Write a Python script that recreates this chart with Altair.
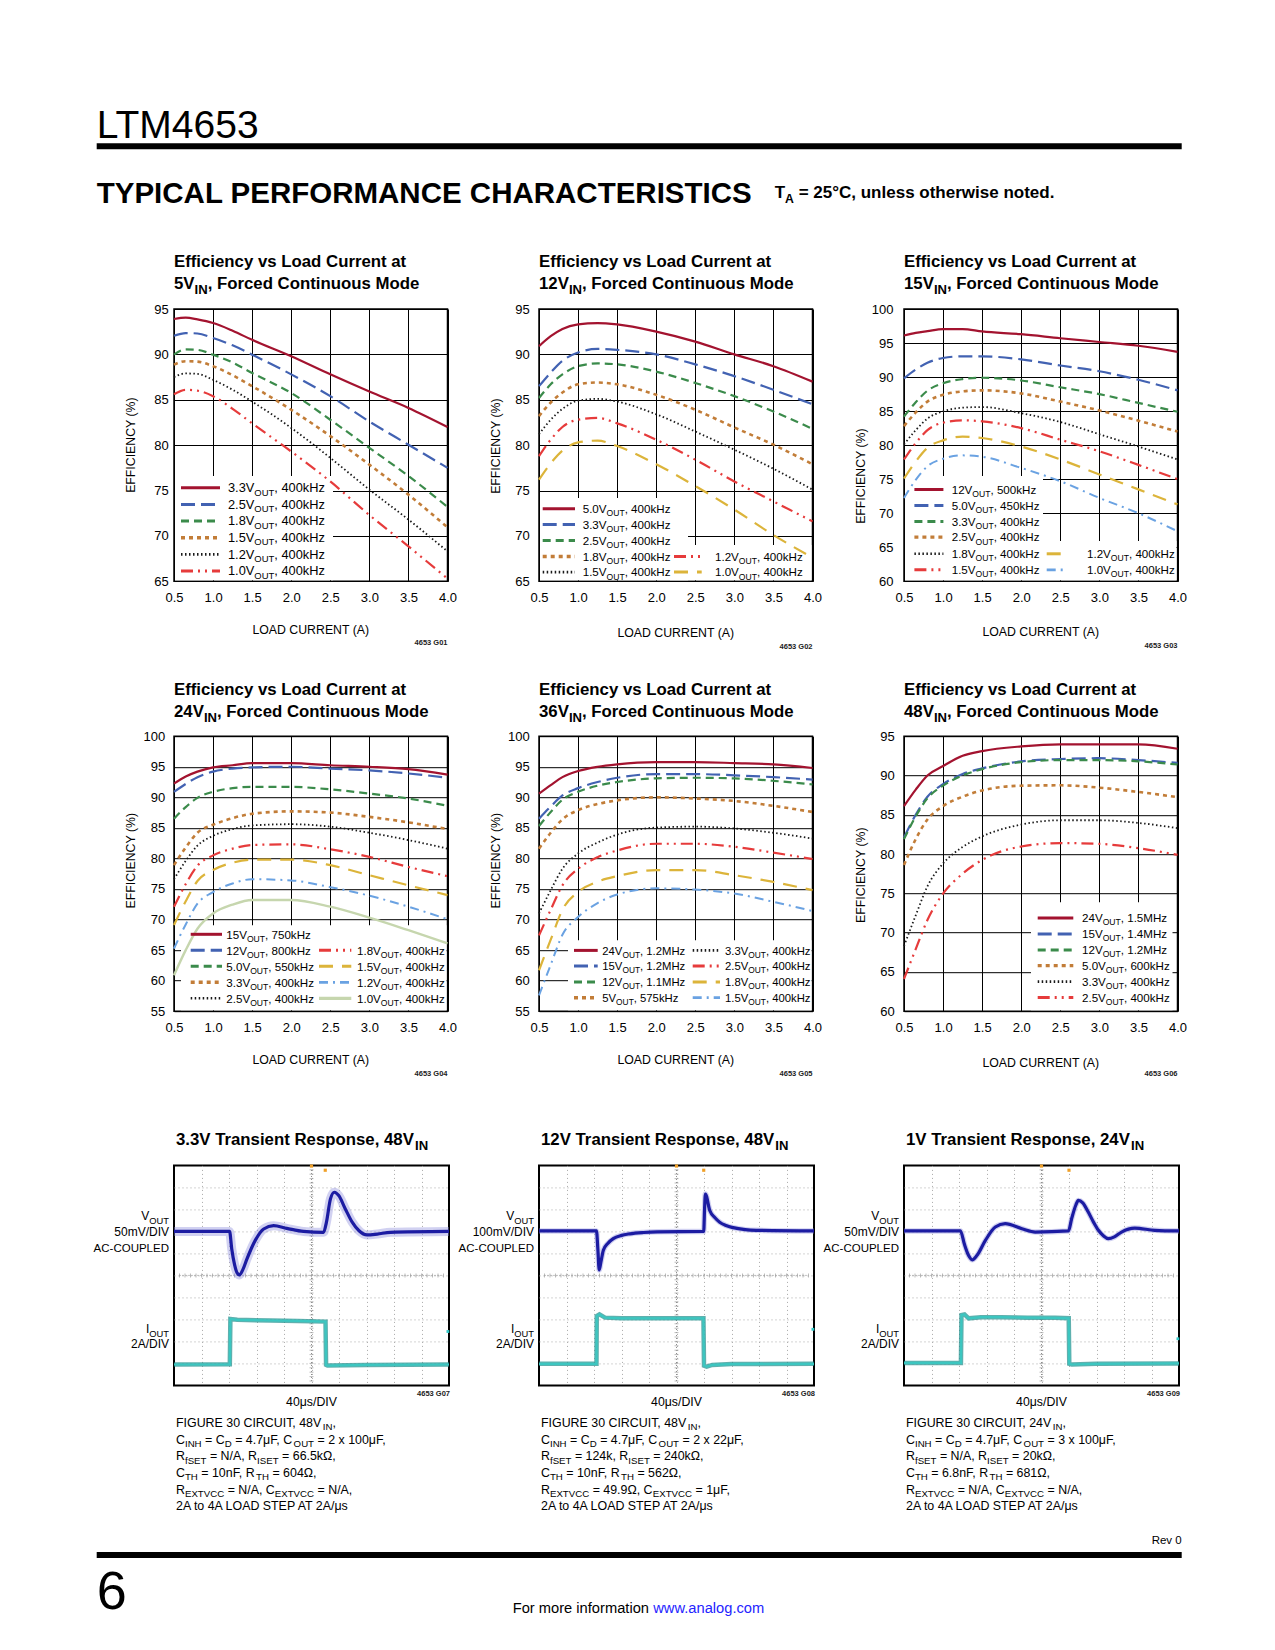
import re
import altair as alt
import pandas as pd

# ====================== DATA ======================
LOAD_A = [0.5, 0.65, 0.8, 1.0, 1.25, 1.5, 2.0, 2.5, 3.0, 3.5, 4.0]
X_TICKS = [0.5, 1.0, 1.5, 2.0, 2.5, 3.0, 3.5, 4.0]

EFF_5VIN = {
    "3.3V": [93.9, 94.05, 93.85, 93.45, 92.6, 91.6, 89.8, 87.8, 85.9, 84.1, 82.0],
    "2.5V": [92.05, 92.35, 92.3, 91.8, 91.0, 89.97, 87.8, 85.4, 82.6, 80.05, 77.5],
    "1.8V": [89.97, 90.55, 90.5, 89.97, 89.1, 87.95, 85.75, 82.8, 79.7, 76.6, 73.2],
    "1.5V": [88.87, 89.25, 89.2, 88.7, 87.7, 86.5, 83.9, 81.0, 77.85, 74.55, 70.95],
    "1.2V": [87.5, 87.9, 87.85, 87.2, 86.1, 84.8, 81.9, 78.6, 75.1, 71.8, 68.3],
    "1.0V": [85.6, 86.1, 86.0, 85.4, 84.0, 82.4, 79.3, 76.0, 72.3, 68.85, 65.3],
}
EFF_12VIN = {
    "5.0V": [90.9, 92.0, 92.8, 93.3, 93.45, 93.3, 92.5, 91.4, 90.0, 88.7, 87.0],
    "3.3V": [86.5, 88.0, 89.3, 90.2, 90.6, 90.5, 90.0, 88.9, 87.6, 86.1, 84.5],
    "2.5V": [85.2, 86.7, 87.8, 88.7, 89.0, 88.9, 88.1, 86.85, 85.4, 83.7, 81.8],
    "1.8V": [83.2, 84.7, 85.8, 86.7, 86.9, 86.7, 85.55, 83.9, 81.95, 80.05, 77.9],
    "1.5V": [81.2, 82.8, 84.0, 84.9, 85.1, 84.8, 83.4, 81.5, 79.5, 77.4, 75.1],
    "1.2V": [78.8, 80.6, 82.0, 82.8, 83.0, 82.4, 80.6, 78.4, 76.0, 73.8, 71.6],
    "1.0V": [76.2, 78.0, 79.4, 80.3, 80.5, 79.9, 77.9, 75.5, 72.9, 70.1, 67.6],
}
EFF_15VIN = {
    "12V": [96.1, 96.5, 96.75, 97.05, 97.05, 96.7, 96.3, 95.7, 95.15, 94.6, 93.7],
    "5.0V": [89.8, 91.1, 92.1, 92.8, 93.05, 93.05, 92.6, 91.7, 90.85, 89.6, 88.05],
    "3.3V": [84.2, 86.3, 88.0, 89.1, 89.7, 89.9, 89.5, 88.5, 87.5, 86.2, 84.9],
    "2.5V": [82.8, 84.8, 86.4, 87.4, 87.9, 88.05, 87.6, 86.4, 85.1, 83.6, 82.0],
    "1.8V": [80.1, 82.2, 83.9, 84.97, 85.5, 85.6, 84.7, 83.4, 81.6, 79.8, 77.9],
    "1.5V": [77.9, 80.3, 82.2, 83.3, 83.65, 83.5, 82.5, 80.8, 79.1, 77.1, 75.0],
    "1.2V": [75.1, 77.6, 79.6, 80.7, 81.25, 81.05, 79.8, 77.9, 75.7, 73.5, 71.3],
    "1.0V": [72.25, 74.9, 76.9, 78.0, 78.5, 78.3, 76.65, 74.7, 72.25, 70.0, 67.35],
}
EFF_24VIN = {
    "15V": [92.25, 93.4, 94.2, 94.9, 95.25, 95.6, 95.6, 95.25, 95.0, 94.6, 93.7],
    "12V": [90.9, 92.2, 93.3, 94.2, 94.7, 94.9, 95.0, 94.7, 94.4, 93.9, 93.2],
    "5.0V": [86.5, 88.4, 89.9, 90.9, 91.5, 91.7, 91.7, 91.3, 90.6, 89.8, 88.6],
    "3.3V": [78.9, 81.8, 84.2, 85.5, 86.6, 87.3, 87.7, 87.5, 86.8, 85.9, 84.8],
    "2.5V": [76.6, 79.6, 82.1, 83.7, 84.8, 85.4, 85.6, 85.2, 84.2, 83.0, 81.6],
    "1.8V": [72.1, 75.8, 78.8, 80.5, 81.6, 82.2, 82.3, 81.5, 80.25, 78.6, 77.1],
    "1.5V": [69.1, 73.0, 76.3, 78.1, 79.3, 79.8, 79.8, 78.9, 77.25, 75.6, 74.0],
    "1.2V": [65.25, 69.2, 72.6, 74.5, 75.9, 76.6, 76.4, 75.3, 73.9, 72.1, 70.05],
    "1.0V": [60.9, 65.0, 68.5, 71.0, 72.45, 73.2, 73.2, 72.1, 70.3, 68.25, 66.1],
}
EFF_36VIN = {
    "24V": [90.6, 92.0, 93.3, 94.3, 95.0, 95.4, 95.75, 95.75, 95.6, 95.4, 94.8],
    "15V": [86.5, 88.5, 90.3, 91.5, 92.5, 93.2, 93.8, 93.8, 93.6, 93.3, 92.9],
    "12V": [85.3, 87.6, 89.6, 90.9, 91.9, 92.5, 93.1, 93.2, 93.1, 92.7, 92.1],
    "5V": [81.6, 84.2, 86.4, 87.9, 88.9, 89.5, 90.0, 89.8, 89.4, 88.6, 87.6],
    "3.3V": [71.0, 74.8, 78.3, 80.8, 82.6, 83.9, 85.05, 85.2, 84.9, 84.2, 83.25],
    "2.5V": [67.4, 71.6, 75.6, 78.3, 80.2, 81.3, 82.4, 82.4, 81.9, 80.95, 79.9],
    "1.8V": [61.7, 66.7, 71.6, 74.5, 76.2, 77.1, 78.1, 78.1, 77.25, 76.15, 74.8],
    "1.5V": [57.6, 62.6, 67.5, 70.4, 72.7, 74.1, 75.1, 74.9, 74.25, 72.9, 71.4],
}
EFF_48VIN = {
    "24V": [86.1, 88.2, 90.0, 91.2, 92.5, 93.1, 93.7, 93.97, 93.97, 93.97, 93.4],
    "15V": [82.1, 85.0, 87.3, 88.9, 90.2, 90.9, 91.8, 92.1, 92.2, 91.96, 91.6],
    "12V": [81.9, 84.8, 87.1, 88.7, 90.0, 90.8, 91.7, 91.96, 91.96, 91.8, 91.4],
    "5.0V": [78.6, 81.9, 84.4, 86.1, 87.3, 88.1, 88.7, 88.75, 88.45, 87.9, 87.25],
    "3.3V": [68.3, 72.2, 75.9, 78.8, 80.9, 82.25, 83.75, 84.3, 84.3, 83.96, 83.3],
    "2.5V": [64.1, 67.9, 71.6, 74.97, 77.5, 79.25, 80.96, 81.4, 81.3, 80.75, 79.9],
}

LEG_5VIN = ["3.3V_{OUT}, 400kHz", "2.5V_{OUT}, 400kHz", "1.8V_{OUT}, 400kHz",
            "1.5V_{OUT}, 400kHz", "1.2V_{OUT}, 400kHz", "1.0V_{OUT}, 400kHz"]
LEG_12VIN = ["5.0V_{OUT}, 400kHz", "3.3V_{OUT}, 400kHz", "2.5V_{OUT}, 400kHz", "1.8V_{OUT}, 400kHz",
             "1.5V_{OUT}, 400kHz", "1.2V_{OUT}, 400kHz", "1.0V_{OUT}, 400kHz"]
LEG_15VIN = ["12V_{OUT}, 500kHz", "5.0V_{OUT}, 450kHz", "3.3V_{OUT}, 400kHz", "2.5V_{OUT}, 400kHz",
             "1.8V_{OUT}, 400kHz", "1.5V_{OUT}, 400kHz", "1.2V_{OUT}, 400kHz", "1.0V_{OUT}, 400kHz"]
LEG_24VIN = ["15V_{OUT}, 750kHz", "12V_{OUT}, 800kHz", "5.0V_{OUT}, 550kHz", "3.3V_{OUT}, 400kHz",
             "2.5V_{OUT}, 400kHz", "1.8V_{OUT}, 400kHz", "1.5V_{OUT}, 400kHz", "1.2V_{OUT}, 400kHz",
             "1.0V_{OUT}, 400kHz"]
LEG_36VIN = ["24V_{OUT}, 1.2MHz", "15V_{OUT}, 1.2MHz", "12V_{OUT}, 1.1MHz", "5V_{OUT}, 575kHz",
             "3.3V_{OUT}, 400kHz", "2.5V_{OUT}, 400kHz", "1.8V_{OUT}, 400kHz", "1.5V_{OUT}, 400kHz"]
LEG_48VIN = ["24V_{OUT}, 1.5MHz", "15V_{OUT}, 1.4MHz", "12V_{OUT}, 1.2MHz", "5.0V_{OUT}, 600kHz",
             "3.3V_{OUT}, 400kHz", "2.5V_{OUT}, 400kHz"]

# Scope traces, in screen divisions (10 x 10 graticule)
S1_VOUT_X = [0, 2.02, 2.1, 2.2, 2.3, 2.38, 2.5, 2.65, 2.95, 3.26, 3.62, 4.1, 4.71, 5.44, 5.54, 5.69,
             5.83, 5.99, 6.23, 6.48, 6.72, 7.02, 7.39, 7.87, 10]
S1_VOUT_Y = [7.0, 7.0, 6.2, 5.5, 5.1, 5.02, 5.25, 5.74, 6.58, 7.11, 7.26, 7.14, 7.0, 6.96, 7.4, 8.48,
             8.78, 8.63, 8.02, 7.42, 7.04, 6.84, 6.88, 6.96, 7.0]
S1_IOUT_X = [0, 2.03, 2.05, 2.3, 3.5, 4.5, 5.51, 5.53, 5.58, 7.0, 10]
S1_IOUT_Y = [0.95, 0.96, 3.02, 2.98, 2.95, 2.93, 2.9, 0.93, 0.9, 0.93, 0.95]

S2_VOUT_X = [0, 2.09, 2.14, 2.19, 2.25, 2.34, 2.5, 2.7, 3.0, 3.3, 3.8, 4.3, 5.99, 6.02, 6.05, 6.21,
             6.4, 6.57, 6.8, 7.06, 7.5, 7.9, 10]
S2_VOUT_Y = [7.02, 7.02, 6.2, 5.25, 5.6, 6.14, 6.45, 6.67, 6.82, 6.89, 6.95, 6.98, 7.0, 8.0, 8.7, 7.95,
             7.62, 7.42, 7.27, 7.17, 7.08, 7.05, 7.02]
S2_IOUT_X = [0, 2.09, 2.1, 2.2, 2.4, 3.0, 4.0, 5.0, 5.98, 6.0, 6.1, 6.3, 7.0, 10]
S2_IOUT_Y = [0.98, 0.98, 3.15, 3.23, 3.08, 3.05, 3.05, 3.05, 3.05, 0.9, 0.85, 0.93, 0.97, 0.98]

S3_VOUT_X = [0, 2.05, 2.2, 2.35, 2.48, 2.65, 2.96, 3.32, 3.68, 4.29, 4.77, 5.98, 6.1, 6.25, 6.34,
             6.5, 6.7, 6.9, 7.07, 7.25, 7.43, 7.65, 7.91, 8.39, 9.12, 10]
S3_VOUT_Y = [7.02, 7.02, 6.4, 5.9, 5.71, 5.9, 6.59, 7.2, 7.35, 7.12, 6.97, 7.02, 7.6, 8.2, 8.41,
             8.3, 7.88, 7.4, 7.05, 6.8, 6.67, 6.75, 6.97, 7.15, 7.05, 7.02]
S3_IOUT_X = [0, 2.07, 2.09, 2.2, 2.35, 2.8, 3.5, 4.5, 5.5, 5.99, 6.01, 6.1, 7.0, 10]
S3_IOUT_Y = [1.02, 1.02, 3.2, 3.23, 3.05, 3.1, 3.1, 3.08, 3.07, 3.05, 0.98, 0.95, 0.98, 1.0]

S_TRIGGER_X = [5.5, 5.99, 6.0]          # orange trigger marker position per scope
S_CH2_Y = [2.45, 2.55, 2.12]            # cyan channel marker at right edge
S_VSCALE = ["50mV/DIV", "100mV/DIV", "50mV/DIV"]
GRATICULE = [1, 2, 3, 4, 5, 6, 7, 8, 9]
SUBDIV = [k / 5 for k in range(1, 50)]

CAP_1 = ["FIGURE 30 CIRCUIT, 48V_{IN},", "C_{INH} = C_{D} = 4.7μF, C_{OUT} = 2 x 100μF,",
         "R_{fSET} = N/A, R_{ISET} = 66.5kΩ,", "C_{TH} = 10nF, R_{TH} = 604Ω,",
         "R_{EXTVCC} = N/A, C_{EXTVCC} = N/A,", "2A to 4A LOAD STEP AT 2A/μs"]
CAP_2 = ["FIGURE 30 CIRCUIT, 48V_{IN},", "C_{INH} = C_{D} = 4.7μF, C_{OUT} = 2 x 22μF,",
         "R_{fSET} = 124k, R_{ISET} = 240kΩ,", "C_{TH} = 10nF, R_{TH} = 562Ω,",
         "R_{EXTVCC} = 49.9Ω, C_{EXTVCC} = 1μF,", "2A to 4A LOAD STEP AT 2A/μs"]
CAP_3 = ["FIGURE 30 CIRCUIT, 24V_{IN},", "C_{INH} = C_{D} = 4.7μF, C_{OUT} = 3 x 100μF,",
         "R_{fSET} = N/A, R_{ISET} = 20kΩ,", "C_{TH} = 6.8nF, R_{TH} = 681Ω,",
         "R_{EXTVCC} = N/A, C_{EXTVCC} = N/A,", "2A to 4A LOAD STEP AT 2A/μs"]

# ====================== STYLE / TEXT HELPERS ======================
FONT = "Liberation Sans, Arial, Helvetica, sans-serif"
REG = {' ': 278, '!': 278, '%': 889, '(': 333, ')': 333, ',': 278, '-': 333, '.': 278, '/': 278,
       ':': 278, '=': 584, '°': 400, 'μ': 576, 'Ω': 768,
       'A': 667, 'B': 667, 'C': 722, 'D': 722, 'E': 667, 'F': 611, 'G': 778, 'H': 722, 'I': 278,
       'J': 500, 'K': 667, 'L': 556, 'M': 833, 'N': 722, 'O': 778, 'P': 667, 'Q': 778, 'R': 722,
       'S': 667, 'T': 611, 'U': 722, 'V': 667, 'W': 944, 'X': 667, 'Y': 667, 'Z': 611,
       'a': 556, 'b': 556, 'c': 500, 'd': 556, 'e': 556, 'f': 278, 'g': 556, 'h': 556, 'i': 222,
       'j': 222, 'k': 500, 'l': 222, 'm': 833, 'n': 556, 'o': 556, 'p': 556, 'q': 556, 'r': 333,
       's': 500, 't': 278, 'u': 556, 'v': 500, 'w': 722, 'x': 500, 'y': 500, 'z': 500}
BOLD = dict(REG)
BOLD.update({'A': 722, 'B': 722, 'L': 611, 'a': 556, 'c': 556, 'd': 611, 'f': 333, 'g': 611,
             'h': 611, 'i': 278, 'j': 278, 'k': 556, 'l': 278, 'm': 889, 'n': 611, 'o': 611,
             'p': 611, 'q': 611, 'r': 389, 's': 556, 't': 333, 'u': 611, 'v': 556, 'w': 778,
             'x': 556, 'y': 556, 'z': 500})

ONE = alt.Data(values=[{"k": 0}])


def tw(s, size, bold):
    tab = BOLD if bold else REG
    return sum(tab.get(ch, 556) for ch in s) / 1000.0 * size


def parse(markup):
    parts, pos = [], 0
    for m in re.finditer(r"_\{([^}]*)\}", markup):
        if m.start() > pos:
            parts.append((markup[pos:m.start()], False))
        parts.append((m.group(1), True))
        pos = m.end()
    if pos < len(markup):
        parts.append((markup[pos:], False))
    return parts


def txt(t, x, y, size, bold=False, align="left", color="black", angle=None, baseline="alphabetic"):
    kw = dict(text=t, align=align, baseline=baseline, font=FONT, fontSize=size,
              fontWeight="bold" if bold else "normal", color=color)
    if angle is not None:
        kw["angle"] = angle
    return alt.Chart(ONE).mark_text(**kw).encode(x=alt.value(x), y=alt.value(y))


def rich(markup, x, y, size, bold=False, align="left", color="black", sub=0.74):
    parts = parse(markup)
    if len(parts) == 1 and not parts[0][1]:
        return [txt(parts[0][0], x, y, size, bold, align, color)]
    widths = [tw(t, size * (sub if s else 1), bold) for t, s in parts]
    total = sum(widths)
    cx = x - total if align == "right" else (x - total / 2 if align == "center" else x)
    out = []
    for (t, s), w in zip(parts, widths):
        fs = size * sub if s else size
        lead = len(t) - len(t.lstrip(" "))
        tt = t.strip(" ")
        if tt:
            out.append(txt(tt, cx + lead * tw(" ", fs, bold), y + (0.28 * size if s else 0),
                           fs, bold, "left", color))
        cx += w
    return out


def hrule(x1, x2, y, color="black", width=1.0, dash=None):
    kw = dict(color=color, strokeWidth=width)
    if dash:
        kw["strokeDash"] = dash
    return alt.Chart(ONE).mark_rule(**kw).encode(x=alt.value(x1), x2=alt.value(x2), y=alt.value(y))


def box(x1, y1, x2, y2, color="white"):
    return alt.Chart(ONE).mark_rect(color=color).encode(
        x=alt.value(x1), x2=alt.value(x2), y=alt.value(y1), y2=alt.value(y2))


STY = {
    "red": dict(color="#a3132f", strokeWidth=2.2),
    "blue": dict(color="#4262b2", strokeWidth=2.2, strokeDash=[14, 6]),
    "green": dict(color="#3b8b4b", strokeWidth=2.2, strokeDash=[8, 5]),
    "orange": dict(color="#c27d38", strokeWidth=2.6, strokeDash=[4, 4]),
    "black": dict(color="#1a1a1a", strokeWidth=1.8, strokeDash=[1.5, 2.5]),
    "redd": dict(color="#e63b3b", strokeWidth=2.2, strokeDash=[12, 5, 2, 5, 2, 5]),
    "yellow": dict(color="#dcb43a", strokeWidth=2.2, strokeDash=[14, 9]),
    "lblue": dict(color="#6aa2e2", strokeWidth=2.0, strokeDash=[9, 5, 2, 5]),
    "pale": dict(color="#c6d6ae", strokeWidth=2.4),
}

W_EFF = 273.5
W_SCOPE = 275
H_ROW = [272.3, 275, 220]
FS_TICK = 13
FS_AX = 12.3
FS_TITLE = 16.8


# ====================== PANELS ======================
def eff_panel(cfg, extra=None):
    W, H = W_EFF, cfg["H"]
    lo, hi = cfg["ydom"]
    xs = alt.Scale(domain=[0.5, 4.0], nice=False, zero=False)
    ys = alt.Scale(domain=[lo, hi], nice=False, zero=False)
    xaxis = alt.Axis(values=X_TICKS, format=".1f", grid=True, gridColor="black", gridWidth=1,
                     gridOpacity=1, domain=False, ticks=False, tickSize=0, labelFont=FONT,
                     labelFontSize=FS_TICK, labelColor="black", labelPadding=10, title=None,
                     labelFlush=False, labelOverlap=False)
    yaxis = alt.Axis(values=list(range(lo, hi + 1, 5)), format="d", grid=True, gridColor="black",
                     gridWidth=1, gridOpacity=1, domain=False, ticks=False, tickSize=0,
                     labelFont=FONT, labelFontSize=FS_TICK, labelColor="black",
                     labelPadding=cfg["ylp"], title=None, labelFlush=False, labelOverlap=False)
    layers = list(extra or [])
    for r in cfg["rects"]:
        layers.append(box(*r))
    names = list(cfg["data"].keys())
    for i, name in enumerate(names):
        df = pd.DataFrame({"load": LOAD_A, "eff": cfg["data"][name]})
        layers.append(alt.Chart(df).mark_line(interpolate="monotone", **STY[cfg["styles"][i]]).encode(
            x=alt.X("load:Q", scale=xs, axis=xaxis),
            y=alt.Y("eff:Q", scale=ys, axis=yaxis)))
    # legend
    for col in cfg["cols"]:
        for k, yb in zip(col["idx"], col["ys"]):
            st = STY[cfg["styles"][k]]
            layers.append(hrule(col["x1"], col["x2"], yb - 4.2, st["color"], st["strokeWidth"] + 0.8,
                                st.get("strokeDash")))
            layers += rich(cfg["labels"][k], col["tx"], yb, cfg["lfs"])
    # titles
    layers.append(txt("Efficiency vs Load Current at", 0, cfg["t1"], FS_TITLE, bold=True))
    layers += rich(cfg["title2"], 0, cfg["t1"] + 22.5, FS_TITLE, bold=True, sub=0.78)
    layers.append(txt("EFFICIENCY (%)", -43, H / 2 + cfg["ytoff"], FS_AX, angle=270,
                      align="center", baseline="middle"))
    layers.append(txt("LOAD CURRENT (A)", W / 2, H + cfg["xtb"], FS_AX, align="center"))
    layers.append(txt(cfg["code"], W, H + cfg["codeb"], 7.5, bold=True, align="right", color="#222"))
    return alt.layer(*layers).properties(
        width=W, height=H, view=alt.ViewBackground(stroke="black", strokeWidth=1.5))


def scope_panel(i, vx, vy, ix, iy, title, caps, code, band, extra=None):
    W, H = W_SCOPE, H_ROW[2]
    xs = alt.Scale(domain=[0, 10], nice=False, zero=False)
    ys = alt.Scale(domain=[0, 10], nice=False, zero=False)
    ax = alt.Axis(values=GRATICULE, grid=True, gridColor="#a8a8a8", gridDash=[1, 3],
                  gridWidth=1, domain=False, ticks=False, labels=False, title=None)

    def enc(ch, xf="t:Q", yf="v:Q"):
        return ch.encode(x=alt.X(xf, scale=xs, axis=ax), y=alt.Y(yf, scale=ys, axis=ax))

    layers = list(extra or [])
    vdf = pd.DataFrame({"t": vx, "v": vy})
    idf = pd.DataFrame({"t": ix, "v": iy})
    hc = pd.DataFrame({"p": SUBDIV, "c": [5] * len(SUBDIV)})
    layers.append(enc(alt.Chart(hc).mark_line(color="#8c8c8c", strokeDash=[1, 2], strokeWidth=1),
                      "p:Q", "c:Q"))
    layers.append(enc(alt.Chart(hc).mark_line(color="#8c8c8c", strokeDash=[1, 2], strokeWidth=1),
                      "c:Q", "p:Q"))
    layers.append(enc(alt.Chart(hc).mark_tick(orient="vertical", size=4, thickness=1, color="#a0a0a0"),
                      "p:Q", "c:Q"))
    layers.append(enc(alt.Chart(hc).mark_tick(orient="horizontal", size=4, thickness=1, color="#a0a0a0"),
                      "c:Q", "p:Q"))
    layers.append(enc(alt.Chart(vdf).mark_line(color="#8c8cdc", strokeWidth=band, opacity=0.4,
                                               interpolate="monotone")))
    layers.append(enc(alt.Chart(idf).mark_line(color="#1b8f8b", strokeWidth=4.5, opacity=0.7)))
    layers.append(enc(alt.Chart(idf).mark_line(color="#3cc6c0", strokeWidth=2.2)))
    layers.append(enc(alt.Chart(vdf).mark_line(color="#1c1ca2", strokeWidth=3.2, interpolate="monotone")))
    mk = pd.DataFrame({"t": [S_TRIGGER_X[i], 5.0], "v": [9.78, 9.97]})
    layers.append(enc(alt.Chart(mk).mark_square(color="#f0a028", size=10, opacity=1)))
    ck = pd.DataFrame({"t": [9.96], "v": [S_CH2_Y[i]]})
    layers.append(enc(alt.Chart(ck).mark_square(color="#30c8c8", size=8, opacity=1)))
    # text
    layers += rich(title, 2, -20.5, FS_TITLE, bold=True, sub=0.78)
    layers += rich("V_{OUT}", -5, 55, 12, align="right", sub=0.78)
    layers.append(txt(S_VSCALE[i], -5, 70.5, 12, align="right"))
    layers.append(txt("AC-COUPLED", -5, 86.5, 11.5, align="right"))
    layers += rich("I_{OUT}", -5, 168, 12, align="right", sub=0.78)
    layers.append(txt("2A/DIV", -5, 182.5, 12, align="right"))
    layers.append(txt("40μs/DIV", W / 2, 240.7, 12.3, align="center"))
    layers.append(txt(code, W + 1, 231, 7.5, bold=True, align="right", color="#222"))
    for k, line in enumerate(caps):
        layers += rich(line, 2, 261.5 + k * 16.7, 12.4, sub=0.78)
    return alt.layer(*layers).properties(
        width=W, height=H, view=alt.ViewBackground(stroke="black", strokeWidth=2))


# Page decorations (positions relative to panel 1 / panel 7 plot origins)
P1X, P1Y = 172.3, 307.7
P7X, P7Y = 172.3, 1163.3
header = [
    box(8 - P1X, 8 - P1Y, 9 - P1X, 9 - P1Y, "white"),          # page origin anchor
    txt("LTM4653", 95 - P1X, 137 - P1Y, 39),
    box(95 - P1X, 142 - P1Y, 1180 - P1X, 148 - P1Y, "black"),
    txt("TYPICAL PERFORMANCE CHARACTERISTICS", 95 - P1X, 202 - P1Y, 29.5, bold=True),
] + rich("T_{A} = 25°C, unless otherwise noted.", 773 - P1X, 196.7 - P1Y, 17, bold=True, sub=0.72)

footer = [
    box(95 - P7X, 1550 - P7Y, 1180 - P7X, 1556 - P7Y, "black"),
    txt("Rev 0", 1180 - P7X, 1542 - P7Y, 11.5, align="right"),
    txt("6", 95 - P7X, 1607 - P7Y, 54),
    txt("For more information", 511 - P7X, 1611 - P7Y, 14.7),
    txt("www.analog.com", 511 - P7X + tw("For more information ", 14.7, False), 1611 - P7Y, 14.7,
        color="#2424ff"),
]

C1 = dict(H=H_ROW[0], ydom=(65, 95), data=EFF_5VIN, labels=LEG_5VIN,
          styles=["red", "blue", "green", "orange", "black", "redd"],
          cols=[dict(x1=7, x2=46, tx=54, ys=[183, 199.6, 216.3, 232.9, 249.6, 266.2], idx=[0, 1, 2, 3, 4, 5])],
          rects=[(1, 167, 159, 271.3)], ylp=5.7, ytoff=0, xtb=53, codeb=64, code="4653 G01", lfs=12.8,
          t1=-42.5, title2="5V_{IN}, Forced Continuous Mode")
C2 = dict(H=H_ROW[0], ydom=(65, 95), data=EFF_12VIN, labels=LEG_12VIN,
          styles=["red", "blue", "green", "orange", "black", "redd", "yellow"],
          cols=[dict(x1=3.7, x2=36, tx=43.7, ys=[204, 219.7, 235.7, 251.7, 267.3], idx=[0, 1, 2, 3, 4]),
                dict(x1=135, x2=162.7, tx=176, ys=[251.7, 267.3], idx=[5, 6])],
          rects=[(1, 189, 149, 271.3), (131, 236, 272.5, 271.3)], ylp=9.7, ytoff=1, xtb=55.7, codeb=68,
          code="4653 G02", lfs=11.6, t1=-42.5, title2="12V_{IN}, Forced Continuous Mode")
C3 = dict(H=H_ROW[0], ydom=(60, 100), data=EFF_15VIN, labels=LEG_15VIN,
          styles=["red", "blue", "green", "orange", "black", "redd", "yellow", "lblue"],
          cols=[dict(x1=10.4, x2=39.4, tx=47.7, ys=[184.7, 200.7, 216.6, 232.3, 249, 265], idx=[0, 1, 2, 3, 4, 5]),
                dict(x1=142.7, x2=158.7, tx=183, ys=[249, 265], idx=[6, 7])],
          rects=[(1, 167, 139, 271.3), (139, 232, 272.5, 271.3)], ylp=11, ytoff=31, xtb=55, codeb=66.7,
          code="4653 G03", lfs=11.6, t1=-42.5, title2="15V_{IN}, Forced Continuous Mode")
C4 = dict(H=H_ROW[1], ydom=(55, 100), data=EFF_24VIN, labels=LEG_24VIN,
          styles=["red", "blue", "green", "orange", "black", "redd", "yellow", "lblue", "pale"],
          cols=[dict(x1=16.7, x2=48, tx=52.3, ys=[202.3, 218.3, 234.3, 250.3, 266.3], idx=[0, 1, 2, 3, 4]),
                dict(x1=145, x2=177.3, tx=183, ys=[218.3, 234.3, 250.3, 266.3], idx=[5, 6, 7, 8])],
          rects=[(7, 189, 272.5, 274)], ylp=9.3, ytoff=-13, xtb=53, codeb=65, code="4653 G04", lfs=11.6,
          t1=-41.5, title2="24V_{IN}, Forced Continuous Mode")
C5 = dict(H=H_ROW[1], ydom=(55, 100), data=EFF_36VIN, labels=LEG_36VIN,
          styles=["red", "blue", "green", "orange", "black", "redd", "yellow", "lblue"],
          cols=[dict(x1=35, x2=58.7, tx=63.3, ys=[218.4, 234, 250, 265.7], idx=[0, 1, 2, 3]),
                dict(x1=153.7, x2=181, tx=186, ys=[218.4, 234, 250, 265.7], idx=[4, 5, 6, 7])],
          rects=[(29, 204, 272.5, 274)], ylp=9.7, ytoff=-13, xtb=53, codeb=65, code="4653 G05", lfs=11.3,
          t1=-41.5, title2="36V_{IN}, Forced Continuous Mode")
C6 = dict(H=H_ROW[1], ydom=(60, 95), data=EFF_48VIN, labels=LEG_48VIN,
          styles=["red", "blue", "green", "orange", "black", "redd"],
          cols=[dict(x1=133.7, x2=169.3, tx=178, ys=[186, 202, 218, 233.6, 249.6, 265.6], idx=[0, 1, 2, 3, 4, 5])],
          rects=[(127, 166, 268.5, 274)], ylp=9.7, ytoff=1.5, xtb=56, codeb=64.7, code="4653 G06", lfs=11.6,
          t1=-41.5, title2="48V_{IN}, Forced Continuous Mode")

panels = [
    eff_panel(C1, header), eff_panel(C2), eff_panel(C3),
    eff_panel(C4), eff_panel(C5), eff_panel(C6),
    scope_panel(0, S1_VOUT_X, S1_VOUT_Y, S1_IOUT_X, S1_IOUT_Y, "3.3V Transient Response, 48V_{IN}",
                CAP_1, "4653 G07", 9, footer),
    scope_panel(1, S2_VOUT_X, S2_VOUT_Y, S2_IOUT_X, S2_IOUT_Y, "12V Transient Response, 48V_{IN}",
                CAP_2, "4653 G08", 5.5),
    scope_panel(2, S3_VOUT_X, S3_VOUT_Y, S3_IOUT_X, S3_IOUT_Y, "1V Transient Response, 24V_{IN}",
                CAP_3, "4653 G09", 5.5),
]

chart = alt.concat(*panels, columns=3, spacing={"row": 154.2, "column": 90},
                   bounds="flush", align="each", padding=0).configure_view(
    stroke="black", strokeWidth=1.5).configure(font=FONT)

chart.save("out.html", embed_options={"renderer": "svg", "actions": False})
